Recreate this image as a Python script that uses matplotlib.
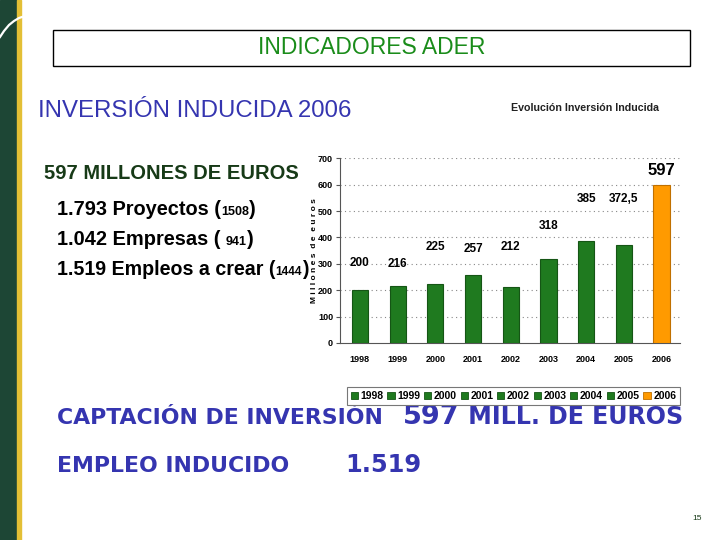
import matplotlib
matplotlib.use("Agg")
import matplotlib.pyplot as plt
from matplotlib.patches import Rectangle, Patch
from matplotlib.lines import Line2D

# data
years = ['1998', '1999', '2000', '2001', '2002', '2003', '2004', '2005', '2006']
inversion = [200, 216, 225, 257, 212, 318, 385, 372.5, 597]
value_labels = ['200', '216', '225', '257', '212', '318', '385', '372,5', '597']
yticks = [0, 100, 200, 300, 400, 500, 600, 700]

# label heights as placed on the original slide
label_pos = [304, 299, 365, 356, 363, 443, 547, 545, 652]

GREEN = '#1f7a1f'
ORANGE = '#ff9a00'
BLUE = '#3535b0'
NARROW = ['Liberation Sans Narrow', 'Liberation Sans', 'DejaVu Sans']
SANS = ['Liberation Sans', 'DejaVu Sans']
WIDE = ['DejaVu Sans']

W, H = 720, 540
fig = plt.figure(figsize=(7.2, 5.4), dpi=100)
fig.patch.set_facecolor('white')


def fx(x):
    return x / W


def fy(y):
    return 1 - y / H


# left stripe
fig.patches.append(Rectangle((0, 0), fx(17), 1, transform=fig.transFigure,
                             color='#1d4635', zorder=0))
fig.patches.append(Rectangle((fx(17), 0), fx(4), 1, transform=fig.transFigure,
                             color='#e3bf35', zorder=0))
fig.lines.append(Line2D([fx(0), fx(4), fx(9), fx(14), fx(19), fx(22)],
                        [fy(37), fy(31), fy(25), fy(21), fy(18), fy(17)],
                        transform=fig.transFigure, color='white', lw=1.6))

# header box
fig.patches.append(Rectangle((fx(53), fy(66)), fx(637), 36 / H, transform=fig.transFigure,
                             fill=False, edgecolor='black', lw=1))
fig.text(fx(372), fy(48), 'INDICADORES ADER', color='#1a8c1a', fontsize=16.5,
         family=SANS, ha='center', va='center')

fig.text(fx(38), fy(111), 'INVERSIÓN INDUCIDA 2006', color=BLUE, fontsize=17.3,
         family=SANS, ha='left', va='center')

fig.text(fx(585), fy(108), 'Evolución Inversión Inducida', color='#222222', fontsize=7.7,
         family=NARROW, fontweight='bold', ha='center', va='center')


# pieces of text set one after the other on the same baseline
def chain_text(x, y, parts, family=SANS, weight='bold'):
    r = fig.canvas.get_renderer()
    cur = fx(x)
    for s, size, color in parts:
        t = fig.text(cur, fy(y), s, fontsize=size, color=color, family=family,
                     fontweight=weight, ha='left', va='baseline')
        bb = t.get_window_extent(renderer=r)
        cur = cur + bb.width / W


chain_text(44, 179, [('597 MILLONES DE EUROS', 14.5, '#173a17')])
chain_text(57, 215, [('1.793 Proyectos (', 14.4, 'black'), ('1508', 9, 'black'), (')', 14.4, 'black')])
chain_text(57, 245, [('1.042 Empresas ( ', 14.4, 'black'), ('941', 9, 'black'), (')', 14.4, 'black')])
chain_text(57, 275, [('1.519 Empleos a crear (', 14.1, 'black'), ('1444', 8.6, 'black'), (')', 14.1, 'black')])

# bottom summary
fig.text(fx(57), fy(424), 'CAPTACIÓN DE INVERSIÓN', color=BLUE, fontsize=15.8,
         family=WIDE, fontweight='heavy', ha='left', va='baseline')
chain_text(403, 424, [('597', 19.5, BLUE), (' MILL. DE EUROS', 17.1, BLUE)], family=WIDE, weight='heavy')
fig.text(fx(57), fy(472), 'EMPLEO INDUCIDO', color=BLUE, fontsize=15.8,
         family=WIDE, fontweight='heavy', ha='left', va='baseline')
fig.text(fx(345), fy(472), '1.519', color=BLUE, fontsize=17.4, family=WIDE,
         fontweight='heavy', ha='left', va='baseline')

fig.text(fx(697), fy(519), '15', color='#173a17', fontsize=6, family=SANS,
         ha='center', va='center')

# chart
ax = fig.add_axes([fx(340), fy(343), fx(340), (343 - 158.3) / H])
xs = list(range(len(years)))
colors = [GREEN] * (len(years) - 1) + [ORANGE]
edges = ['#155515'] * (len(years) - 1) + ['#c07000']
ax.bar(xs, inversion, width=0.43, color=colors, edgecolor=edges, linewidth=0.8, zorder=3)
ax.set_xlim(-0.53, 8.49)
ax.set_ylim(0, 700)
ax.set_yticks(yticks)
ax.set_yticklabels([str(v) for v in yticks], fontsize=6.5, fontweight='bold', family=NARROW)
ax.set_xticks(xs)
ax.set_xticklabels(years, fontsize=6.5, fontweight='bold', family=NARROW)
ax.tick_params(axis='x', length=0, pad=9)
ax.tick_params(axis='y', length=3, width=0.8, color='#555555', pad=2)
for v in yticks[1:]:
    ax.axhline(v, color='#888888', lw=0.8, ls=(0, (1, 3)), zorder=1)
for s in ['top', 'right']:
    ax.spines[s].set_visible(False)
ax.spines['left'].set_color('#555555')
ax.spines['bottom'].set_color('#555555')
ax.set_ylabel('M i l l o n e s  d e  e u r o s', fontsize=6.0, fontweight='bold',
              family=SANS, labelpad=0)

for i, (lab, yp) in enumerate(zip(value_labels, label_pos)):
    big = i == len(years) - 1
    ax.text(i, yp, lab, ha='center', va='center', fontsize=12 if big else 8.5,
            fontweight='bold', family=NARROW, clip_on=False, zorder=4)

handles = [Patch(facecolor=c, edgecolor=e, lw=0.6) for c, e in zip(colors, edges)]
leg = fig.legend(handles, years, loc='center', bbox_to_anchor=(fx(513.5), fy(396)),
                 ncol=9, prop={'family': NARROW, 'weight': 'bold', 'size': 7.5},
                 handlelength=0.7, handleheight=0.7, handletextpad=0.25, columnspacing=0.35,
                 borderpad=0.35, fancybox=False, edgecolor='#777777', framealpha=1)
leg.get_frame().set_linewidth(0.8)

fig.savefig('out.png', dpi=100)
